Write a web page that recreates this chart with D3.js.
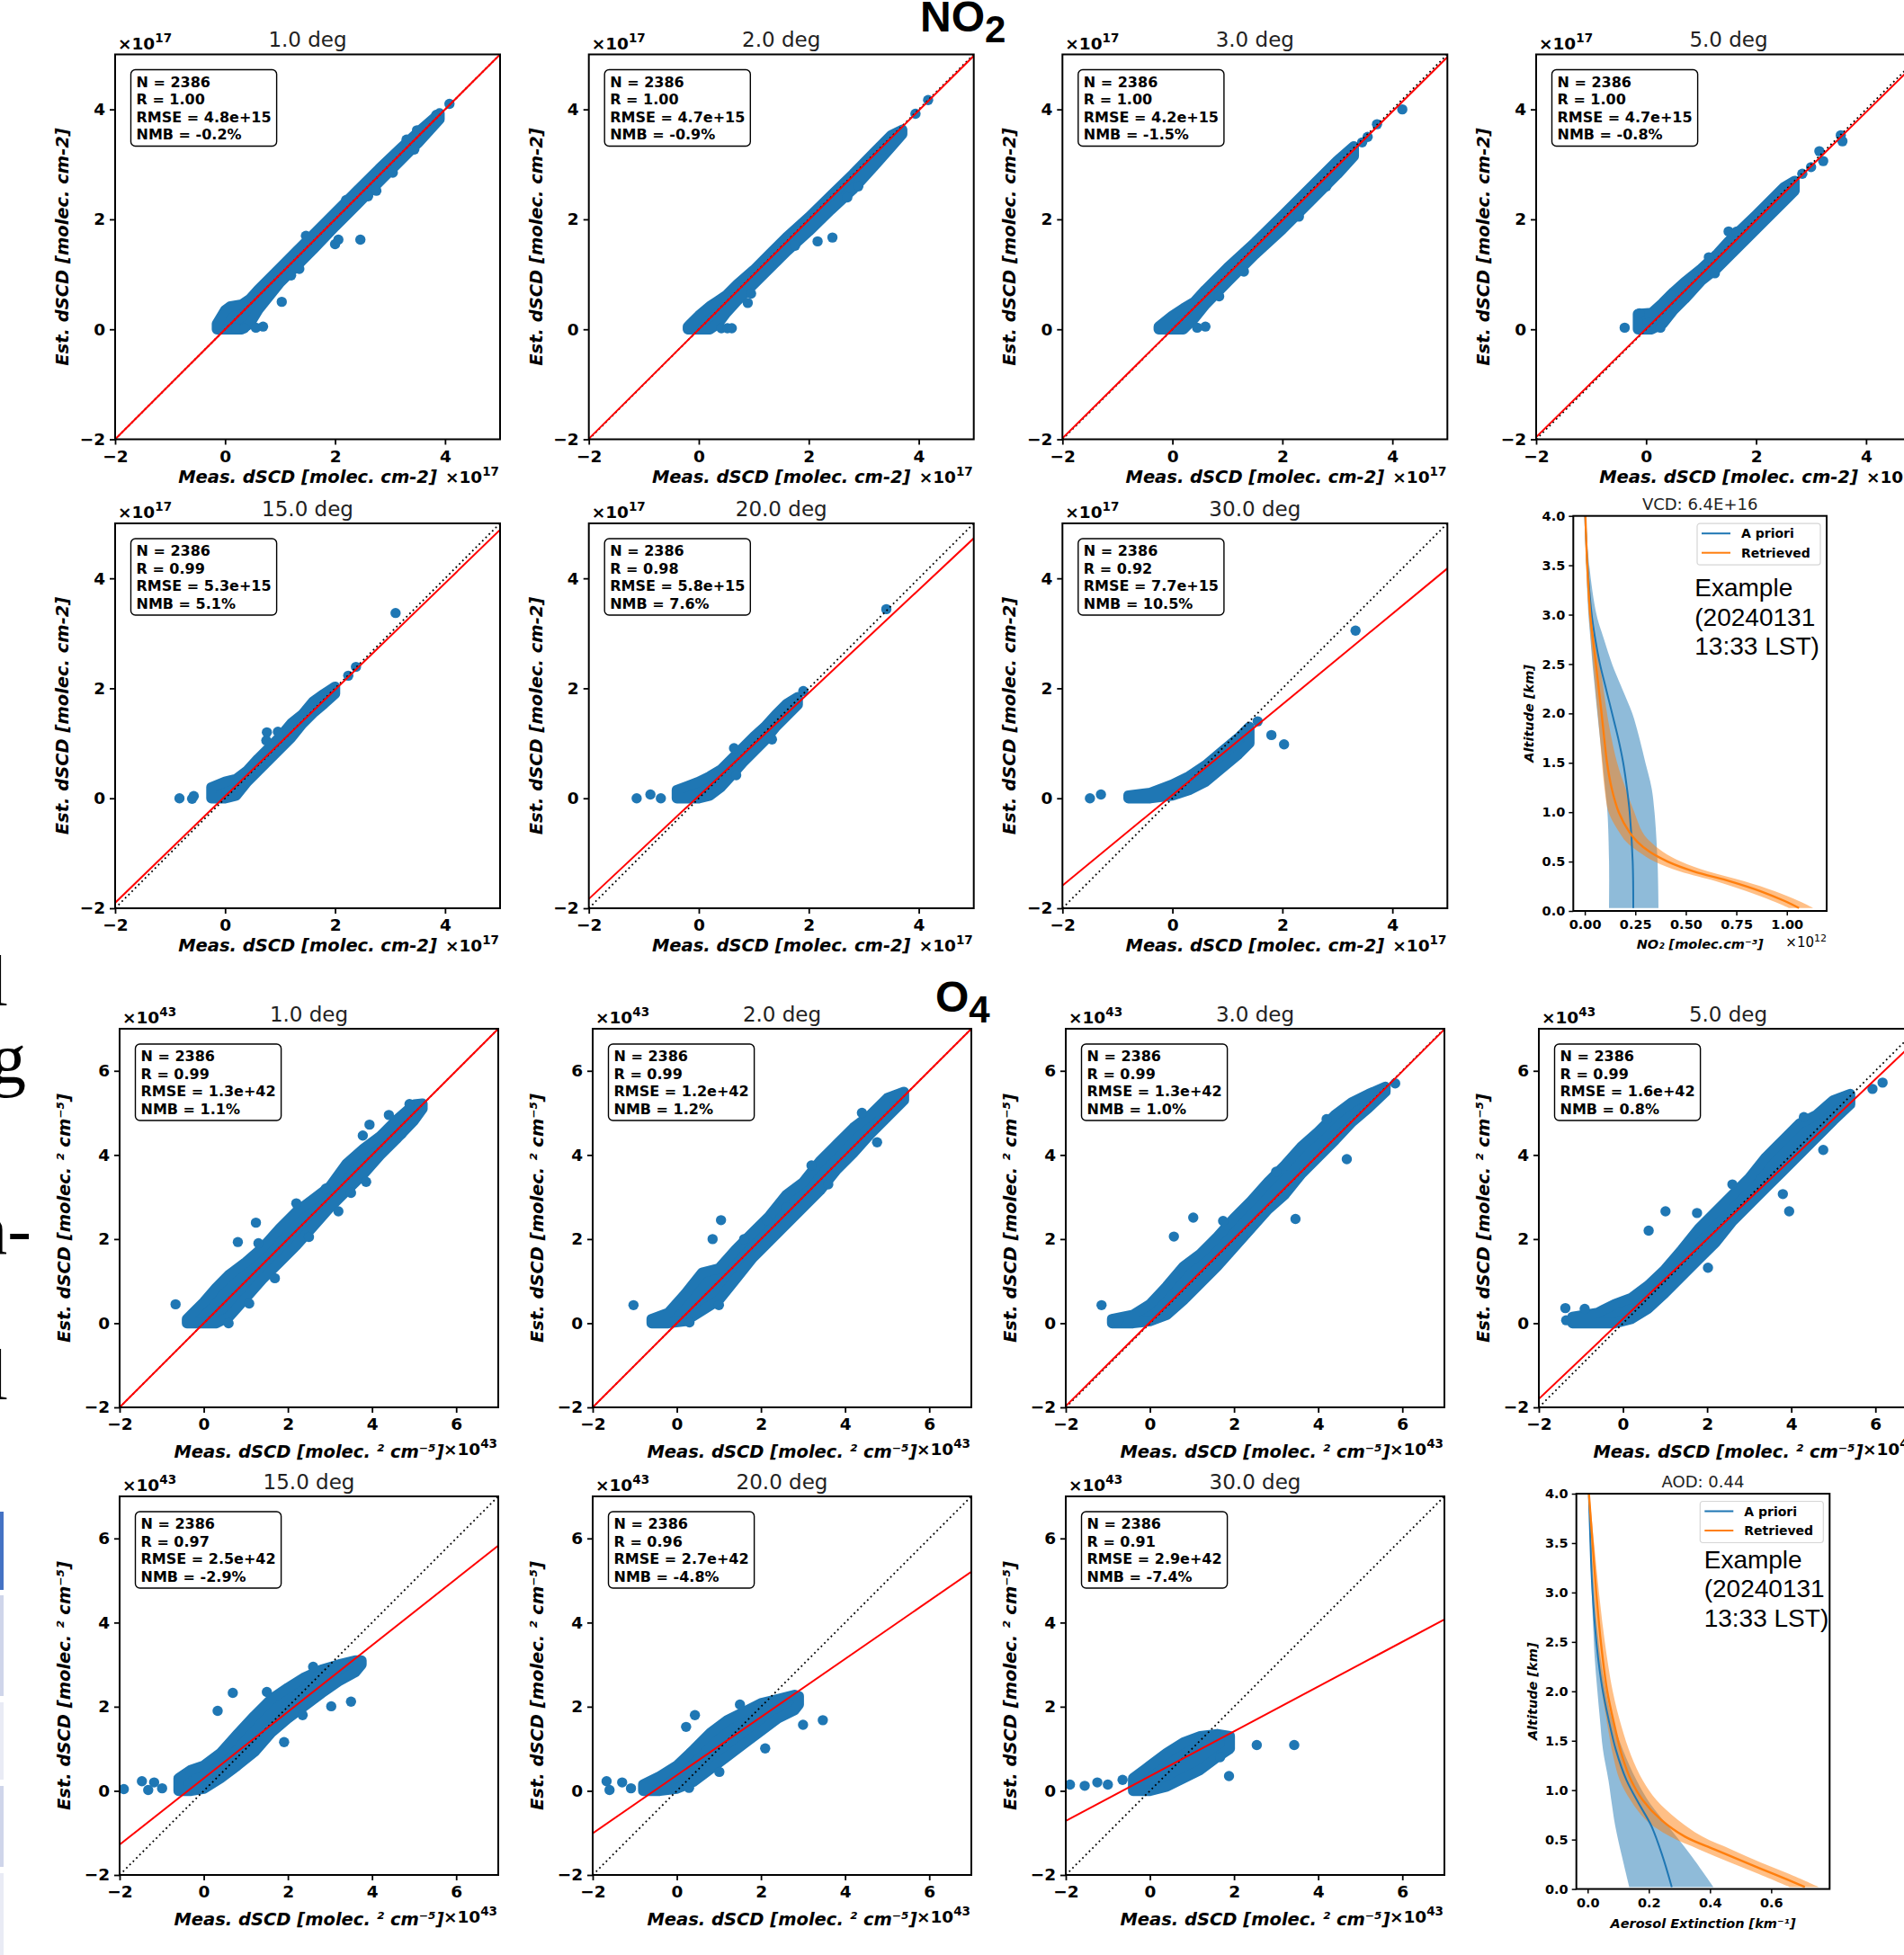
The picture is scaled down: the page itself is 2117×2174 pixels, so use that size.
<!DOCTYPE html>
<html>
<head>
<meta charset="utf-8">
<title>NO2 and O4 dSCD comparison by elevation angle</title>
<script src="https://cdn.jsdelivr.net/npm/d3@7/dist/d3.min.js"></script>
<style>
  html, body { margin: 0; padding: 0; background: #fff; }
  svg { display: block; }
</style>
</head>
<body>
<svg id="fig" width="2117" height="2174" xmlns="http://www.w3.org/2000/svg"></svg>
<script>
// ----------------------------------------------------------------------------
// Data
// ----------------------------------------------------------------------------
const elevationTitles = ["1.0 deg", "2.0 deg", "3.0 deg", "5.0 deg", "15.0 deg", "20.0 deg", "30.0 deg"];
const speciesLabels = [["NO", "2"], ["O", "4"]];

const no2Ticks = [-2, 0, 2, 4];
const o4Ticks = [-2, 0, 2, 4, 6];

// statistics printed in each panel
const no2Stats = [
  ["N = 2386", "R = 1.00", "RMSE = 4.8e+15", "NMB = -0.2%"],
  ["N = 2386", "R = 1.00", "RMSE = 4.7e+15", "NMB = -0.9%"],
  ["N = 2386", "R = 1.00", "RMSE = 4.2e+15", "NMB = -1.5%"],
  ["N = 2386", "R = 1.00", "RMSE = 4.7e+15", "NMB = -0.8%"],
  ["N = 2386", "R = 0.99", "RMSE = 5.3e+15", "NMB = 5.1%"],
  ["N = 2386", "R = 0.98", "RMSE = 5.8e+15", "NMB = 7.6%"],
  ["N = 2386", "R = 0.92", "RMSE = 7.7e+15", "NMB = 10.5%"]
];
const o4Stats = [
  ["N = 2386", "R = 0.99", "RMSE = 1.3e+42", "NMB = 1.1%"],
  ["N = 2386", "R = 0.99", "RMSE = 1.2e+42", "NMB = 1.2%"],
  ["N = 2386", "R = 0.99", "RMSE = 1.3e+42", "NMB = 1.0%"],
  ["N = 2386", "R = 0.99", "RMSE = 1.6e+42", "NMB = 0.8%"],
  ["N = 2386", "R = 0.97", "RMSE = 2.5e+42", "NMB = -2.9%"],
  ["N = 2386", "R = 0.96", "RMSE = 2.7e+42", "NMB = -4.8%"],
  ["N = 2386", "R = 0.91", "RMSE = 2.9e+42", "NMB = -7.4%"]
];

// linear fit [slope, intercept] (units of 1e17 / 1e43)
const no2Fit = [[1.0, 0.0], [0.995, 0.0], [0.99, 0.0], [0.985, 0.01], [0.969, 0.037], [0.937, 0.044], [0.824, 0.06]];
const o4Fit = [[1.0, 0.0], [1.0, 0.0], [0.995, 0.02], [0.95, 0.1], [0.79, 0.30], [0.691, 0.372], [0.532, 0.35]];

// dense core of each scatter cloud: [meas, est_low, est_high]
const no2Cloud = [
  [[-0.15,0.0,0.1],[0.0,0.0,0.35],[0.1,0.0,0.42],[0.3,0.0,0.45],[0.45,0.1,0.55],[0.6,0.35,0.72],[0.8,0.6,0.92],[1.0,0.85,1.12],[1.3,1.15,1.42],[1.6,1.45,1.72],[2.0,1.87,2.12],[2.4,2.27,2.52],[2.8,2.68,2.92],[3.2,3.08,3.3],[3.5,3.38,3.58],[3.9,3.82,3.93]],
  [[-0.2,0.0,0.05],[0.0,0.0,0.25],[0.2,0.0,0.42],[0.35,0.1,0.52],[0.5,0.3,0.62],[0.7,0.52,0.82],[1.0,0.82,1.08],[1.3,1.12,1.38],[1.6,1.42,1.68],[2.0,1.78,2.04],[2.4,2.17,2.43],[2.8,2.54,2.82],[3.2,2.98,3.23],[3.5,3.32,3.53],[3.7,3.55,3.63]],
  [[-0.25,0.0,0.05],[0.0,0.0,0.25],[0.2,0.0,0.38],[0.4,0.2,0.5],[0.6,0.45,0.72],[1.0,0.86,1.12],[1.5,1.36,1.58],[2.0,1.82,2.07],[2.5,2.32,2.57],[3.0,2.82,3.07],[3.3,3.15,3.33]],
  [[-0.15,0.0,0.28],[0.1,0.0,0.3],[0.3,0.1,0.48],[0.5,0.35,0.68],[0.7,0.55,0.86],[1.0,0.88,1.1],[1.3,1.12,1.38],[1.5,1.32,1.6],[2.0,1.82,2.08],[2.5,2.32,2.58],[2.7,2.52,2.7]],
  [[-0.25,0.0,0.2],[0.0,0.0,0.3],[0.2,0.05,0.35],[0.4,0.3,0.5],[0.6,0.5,0.72],[0.8,0.7,0.92],[1.0,0.9,1.12],[1.2,1.1,1.36],[1.4,1.35,1.52],[1.6,1.55,1.76],[1.8,1.72,1.9],[2.0,1.9,2.03]],
  [[-0.4,0.0,0.15],[0.0,0.0,0.3],[0.2,0.05,0.4],[0.4,0.2,0.52],[0.6,0.42,0.72],[0.8,0.65,0.92],[1.0,0.85,1.12],[1.2,1.05,1.3],[1.4,1.3,1.52],[1.6,1.5,1.72],[1.8,1.7,1.84]],
  [[-0.8,0.0,0.05],[-0.4,0.0,0.1],[0.0,0.05,0.25],[0.3,0.15,0.4],[0.6,0.3,0.6],[0.9,0.55,0.85],[1.2,0.8,1.1],[1.4,1.0,1.3]]
];
// individual points outside the dense core: [meas, est]
const no2Points = [
  [[0.2,0.02],[0.35,0.02],[0.56,0.03],[0.69,0.05],[1.03,0.5],[1.2,0.98],[1.35,1.1],[1.47,1.7],[1.72,1.6],[2.0,1.55],[2.06,1.63],[2.2,2.35],[2.46,1.63],[2.6,2.42],[2.75,2.52],[3.05,2.85],[3.3,3.45],[3.44,3.27],[3.49,3.62],[3.84,3.9],[4.08,4.1]],
  [[0.41,0.02],[0.52,0.02],[0.6,0.02],[0.89,0.48],[0.95,0.65],[1.42,1.25],[1.75,1.52],[2.16,1.6],[2.43,1.67],[2.7,2.4],[2.9,2.6],[3.34,3.27],[3.68,3.57],[3.94,3.92],[4.17,4.17]],
  [[0.45,0.03],[0.6,0.05],[0.85,0.6],[1.3,1.05],[2.3,2.05],[2.8,2.6],[3.45,3.4],[3.55,3.5],[3.72,3.73],[4.18,4.0]],
  [[-0.39,0.03],[-0.12,0.29],[0.26,0.03],[0.45,0.62],[1.14,1.31],[1.25,1.02],[1.5,1.78],[1.65,1.78],[2.84,2.83],[3.0,2.95],[3.15,3.24],[3.22,3.06],[3.54,3.53],[3.57,3.42]],
  [[-0.83,0.0],[-0.57,0.04],[-0.6,-0.01],[0.75,1.05],[0.76,1.2],[0.96,1.21],[1.85,1.9],[2.24,2.23],[2.38,2.39],[3.1,3.37]],
  [[-1.13,0.0],[-0.88,0.07],[-0.69,0.0],[0.64,0.91],[0.68,0.42],[1.33,1.07],[1.9,1.95],[3.41,3.44]],
  [[-1.5,0.0],[-1.3,0.07],[1.55,1.4],[1.8,1.15],[2.03,0.98],[3.33,3.05]]
];

const o4Cloud = [
  [[-0.4,0.0,0.1],[-0.3,0.0,0.2],[0.0,0.0,0.5],[0.3,0.0,0.85],[0.6,0.15,1.15],[1.0,0.6,1.45],[1.4,1.05,1.8],[1.8,1.45,2.25],[2.2,1.85,2.65],[2.6,2.3,2.95],[3.0,2.75,3.25],[3.4,3.15,3.8],[3.8,3.55,4.15],[4.2,4.0,4.45],[4.6,4.4,4.85],[5.0,4.82,5.2],[5.2,5.1,5.22]],
  [[-0.6,0.0,0.1],[-0.2,0.0,0.25],[0.2,0.05,0.7],[0.6,0.3,1.2],[1.0,0.55,1.3],[1.4,1.05,1.75],[1.8,1.55,2.15],[2.2,1.95,2.55],[2.6,2.35,3.05],[3.0,2.75,3.35],[3.4,3.15,3.85],[3.8,3.65,4.25],[4.2,4.05,4.65],[4.6,4.5,4.95],[5.0,4.9,5.35],[5.4,5.3,5.5]],
  [[-0.9,0.0,0.1],[-0.4,0.0,0.2],[0.0,0.05,0.45],[0.4,0.2,0.88],[0.8,0.55,1.35],[1.2,0.95,1.65],[1.6,1.35,2.05],[2.0,1.8,2.5],[2.4,2.25,2.9],[2.8,2.7,3.35],[3.2,3.05,3.75],[3.6,3.55,4.2],[4.0,3.95,4.55],[4.4,4.35,4.95],[4.8,4.78,5.25],[5.2,5.12,5.45],[5.6,5.5,5.62]],
  [[-1.2,0.0,0.15],[-0.6,0.0,0.25],[-0.2,0.0,0.45],[0.2,0.1,0.6],[0.6,0.35,0.9],[1.0,0.72,1.28],[1.4,1.12,1.75],[1.8,1.52,2.25],[2.2,1.92,2.65],[2.6,2.42,3.05],[3.0,2.82,3.45],[3.4,3.22,3.95],[3.8,3.62,4.35],[4.2,4.02,4.75],[4.6,4.42,4.95],[5.0,4.82,5.3],[5.4,5.2,5.45]],
  [[-0.6,0.0,0.3],[-0.3,0.0,0.5],[0.0,0.05,0.6],[0.4,0.3,0.9],[0.8,0.6,1.35],[1.2,0.92,1.78],[1.6,1.38,2.18],[2.0,1.72,2.45],[2.4,2.02,2.7],[2.8,2.32,2.88],[3.2,2.6,3.0],[3.6,2.82,3.1],[3.75,3.0,3.1]],
  [[-0.8,0.0,0.15],[-0.4,0.0,0.35],[0.0,0.05,0.6],[0.4,0.22,0.98],[0.8,0.52,1.38],[1.2,0.82,1.68],[1.6,1.12,1.88],[2.0,1.42,2.08],[2.4,1.72,2.18],[2.8,1.92,2.28],[2.9,2.05,2.25]],
  [[-0.4,0.0,0.3],[0.0,0.0,0.6],[0.4,0.1,0.9],[0.8,0.3,1.15],[1.2,0.5,1.3],[1.6,0.8,1.35],[1.9,1.0,1.3]]
];
const o4Points = [
  [[-0.67,0.45],[0.59,0.0],[0.81,1.93],[1.24,2.39],[1.08,0.47],[1.3,1.9],[1.69,1.07],[2.2,2.85],[2.5,2.05],[2.9,3.2],[3.2,2.66],[3.5,3.1],[3.86,3.36],[3.78,4.46],[3.94,4.72],[4.4,4.95],[4.7,4.5],[4.89,5.21]],
  [[-1.03,0.43],[0.3,0.02],[1.0,0.43],[0.85,2.0],[1.05,2.45],[1.6,2.0],[2.14,2.45],[2.6,2.75],[3.2,3.75],[3.6,3.3],[4.4,5.0],[4.76,4.3]],
  [[-1.15,0.43],[-0.75,0.06],[0.57,2.06],[1.03,2.51],[1.74,2.43],[2.2,2.1],[3.0,3.6],[3.46,2.48],[4.2,4.85],[4.68,3.9],[5.83,5.7]],
  [[-1.37,0.36],[-1.35,0.07],[-0.91,0.34],[0.61,2.2],[1.01,2.66],[1.76,2.62],[2.02,1.32],[2.6,3.3],[3.8,3.07],[3.95,2.66],[4.3,4.9],[4.76,4.12],[5.93,5.57],[6.17,5.72]],
  [[-1.9,0.04],[-1.47,0.23],[-1.32,0.02],[-1.18,0.2],[-0.99,0.06],[0.33,1.9],[0.69,2.33],[1.5,2.35],[1.91,1.16],[2.35,1.8],[2.6,2.95],[3.03,2.01],[3.5,2.12]],
  [[-1.67,0.23],[-1.6,0.02],[-1.3,0.2],[-1.09,0.06],[0.22,1.52],[0.43,1.8],[0.29,0.07],[1.01,0.45],[1.5,2.05],[2.1,1.01],[3.0,1.57],[3.47,1.68]],
  [[-1.9,0.15],[-1.55,0.12],[-1.25,0.2],[-1.0,0.15],[-0.65,0.26],[1.19,1.24],[1.67,0.8],[1.88,0.35],[2.54,1.09],[3.43,1.09]]
];

// example vertical profiles (altitude in km)
const no2AprioriAlt  = [0.03, 0.5, 1.0, 1.25, 1.5, 1.75, 2.0, 2.25, 2.5, 2.75, 3.0, 3.5, 4.0];
const no2AprioriMean = [0.24, 0.237, 0.222, 0.208, 0.19, 0.165, 0.135, 0.105, 0.075, 0.052, 0.034, 0.013, 0.002];
const no2AprioriLo   = [0.12, 0.12, 0.112, 0.10, 0.088, 0.075, 0.062, 0.05, 0.038, 0.028, 0.018, 0.007, 0.001];
const no2AprioriHi   = [0.365, 0.36, 0.345, 0.33, 0.30, 0.27, 0.235, 0.185, 0.135, 0.095, 0.058, 0.022, 0.004];

const no2RetrAlt  = [0.03, 0.1, 0.2, 0.3, 0.4, 0.5, 0.6, 0.7, 0.8, 1.0, 1.25, 1.5, 1.75, 2.0, 2.5, 3.0, 3.5, 4.0];
const no2RetrMean = [1.06, 0.99, 0.87, 0.72, 0.54, 0.41, 0.32, 0.26, 0.22, 0.168, 0.132, 0.11, 0.096, 0.083, 0.055, 0.027, 0.012, 0.003];
const no2RetrLo   = [1.01, 0.93, 0.80, 0.65, 0.47, 0.345, 0.265, 0.205, 0.17, 0.118, 0.097, 0.085, 0.075, 0.064, 0.041, 0.02, 0.008, 0.001];
const no2RetrHi   = [1.13, 1.06, 0.94, 0.79, 0.61, 0.475, 0.385, 0.325, 0.285, 0.245, 0.2, 0.16, 0.132, 0.11, 0.075, 0.037, 0.018, 0.005];

const aerAprioriAlt  = [0.02, 0.33, 0.64, 0.86, 1.1, 1.41, 1.72, 2.03, 2.34, 2.65, 3.11, 3.5, 4.0];
const aerAprioriMean = [0.275, 0.245, 0.208, 0.168, 0.127, 0.092, 0.068, 0.048, 0.034, 0.024, 0.014, 0.009, 0.004];
const aerAprioriLo   = [0.136, 0.112, 0.09, 0.079, 0.068, 0.05, 0.04, 0.031, 0.023, 0.018, 0.012, 0.008, 0.003];
const aerAprioriHi   = [0.411, 0.34, 0.262, 0.205, 0.16, 0.115, 0.08, 0.058, 0.042, 0.031, 0.019, 0.012, 0.006];

const aerRetrAlt  = [0.02, 0.15, 0.27, 0.4, 0.53, 0.7, 0.9, 1.1, 1.35, 1.65, 2.0, 2.5, 3.0, 3.5, 4.0];
const aerRetrMean = [0.71, 0.61, 0.515, 0.415, 0.318, 0.24, 0.18, 0.142, 0.112, 0.088, 0.064, 0.043, 0.028, 0.016, 0.004];
const aerRetrLo   = [0.66, 0.56, 0.465, 0.365, 0.27, 0.19, 0.14, 0.105, 0.083, 0.065, 0.047, 0.031, 0.019, 0.01, 0.002];
const aerRetrHi   = [0.755, 0.66, 0.565, 0.47, 0.375, 0.295, 0.225, 0.18, 0.142, 0.11, 0.082, 0.056, 0.037, 0.021, 0.006];

const no2ProfileTicks = [0, 0.25, 0.5, 0.75, 1.0];
const aerProfileTicks = [0, 0.2, 0.4, 0.6];
const altitudeTicks = [0, 0.5, 1.0, 1.5, 2.0, 2.5, 3.0, 3.5, 4.0];
const legendLabels = ["A priori", "Retrieved"];
const exampleLines = ["Example", "(20240131", "13:33 LST)"];

// text fragments and table edge from the surrounding slide
const slideFragments = ["l", "g", "n-", "l"];
const tableEdgeColors = ["#4472c4", "#cfd5ea", "#e9ebf5", "#cfd5ea", "#e9ebf5"];

// ----------------------------------------------------------------------------
// Drawing
// ----------------------------------------------------------------------------
const svg = d3.select("#fig");
const BLUE = "#1f77b4", ORANGE = "#ff7f0e";
const SANS = "'DejaVu Sans', sans-serif";
const ARIAL = "'Liberation Sans', Arial, sans-serif";
const SERIF = "'Liberation Serif', 'Times New Roman', serif";
const R = 5.7;
let clipCount = 0;

svg.append("rect").attr("width", 2117).attr("height", 2174).attr("fill", "#fff");

const minusFmt = d => (d < 0 ? "\u2212" + Math.abs(d) : String(d));

function styleAxis(sel, size, width) {
  sel.select(".domain").remove();
  sel.selectAll(".tick line").attr("stroke", "#000").attr("stroke-width", width);
  sel.selectAll(".tick text")
    .attr("fill", "#000")
    .attr("font-family", SANS)
    .attr("font-weight", "bold")
    .attr("font-size", size);
}

function expText(parent, x, y, anchor, size, expSize, expo, bold) {
  const t = parent.append("text")
    .attr("x", x).attr("y", y)
    .attr("text-anchor", anchor)
    .attr("font-family", SANS)
    .attr("font-weight", bold ? "bold" : "normal")
    .attr("font-size", size)
    .attr("fill", "#000");
  t.append("tspan").text("\u00d710");
  t.append("tspan").attr("dy", -size * 0.42).attr("font-size", expSize).text(expo);
  return t;
}

function scatterPanel(o) {
  const g = svg.append("g").attr("transform", `translate(${o.left},${o.top})`);
  const x = d3.scaleLinear().domain(o.domain).range([0, o.w]);
  const y = d3.scaleLinear().domain(o.domain).range([o.h, 0]);
  const id = "clip" + (clipCount++);
  g.append("clipPath").attr("id", id).append("rect").attr("width", o.w).attr("height", o.h);
  const plot = g.append("g").attr("clip-path", `url(#${id})`);

  // dense part of the point cloud (envelope of overlapping markers)
  plot.append("path").datum(o.cloud)
    .attr("d", d3.area().x(d => x(d[0])).y0(d => y(d[1])).y1(d => y(d[2])))
    .attr("fill", BLUE).attr("stroke", BLUE)
    .attr("stroke-width", 2 * R).attr("stroke-linejoin", "round");
  // individual markers
  plot.selectAll("circle.pt").data(o.points).join("circle")
    .attr("class", "pt")
    .attr("cx", d => x(d[0])).attr("cy", d => y(d[1]))
    .attr("r", R).attr("fill", BLUE);

  const [d0, d1] = o.domain;
  // 1:1 reference
  plot.append("line")
    .attr("x1", x(d0)).attr("y1", y(d0)).attr("x2", x(d1)).attr("y2", y(d1))
    .attr("stroke", "#000").attr("stroke-width", 1.8).attr("stroke-dasharray", "1.8,3.4");
  // regression line
  const [m, b] = o.fit;
  plot.append("line")
    .attr("x1", x(d0)).attr("y1", y(m * d0 + b)).attr("x2", x(d1)).attr("y2", y(m * d1 + b))
    .attr("stroke", "#ff0000").attr("stroke-width", 2);

  // axes
  const xa = g.append("g").attr("transform", `translate(0,${o.h})`)
    .call(d3.axisBottom(x).tickValues(o.ticks).tickSize(6).tickPadding(6).tickFormat(minusFmt));
  styleAxis(xa, 18.5, 1.8);
  const ya = g.append("g")
    .call(d3.axisLeft(y).tickValues(o.ticks).tickSize(6).tickPadding(5).tickFormat(minusFmt));
  styleAxis(ya, 18.5, 1.8);

  g.append("rect").attr("width", o.w).attr("height", o.h)
    .attr("fill", "none").attr("stroke", "#000").attr("stroke-width", 2);

  // statistics box
  const sb = g.append("g").attr("transform", "translate(17.5,17)");
  const rect = sb.append("rect");
  const st = sb.append("text")
    .attr("font-family", SANS).attr("font-weight", "bold").attr("font-size", 16).attr("fill", "#000");
  o.stats.forEach((s, i) => st.append("tspan").attr("x", 6).attr("y", 19 + i * 19.5).text(s));
  const tw = st.node().getBBox().width;
  rect.attr("width", tw + 12).attr("height", 85).attr("rx", 5)
    .attr("fill", "#fff").attr("fill-opacity", 0.8)
    .attr("stroke", "#000").attr("stroke-width", 1.4);

  // title and offset texts
  g.append("text").attr("x", o.w / 2).attr("y", -8.5).attr("text-anchor", "middle")
    .attr("font-family", SANS).attr("font-size", 23).attr("fill", "#222").text(o.title);
  expText(g, 3, -6, "start", 18.5, 13.5, o.expo, true);
  expText(g, o.w - 1, o.h + o.xoffY, "end", 18.5, 13.5, o.expo, true);

  // axis labels
  g.append("text").attr("x", o.w / 2).attr("y", o.h + o.xlabY).attr("text-anchor", "middle")
    .attr("font-family", SANS).attr("font-weight", "bold").attr("font-style", "italic")
    .attr("font-size", 19.5).attr("fill", "#000").text(o.xlab);
  g.append("text").attr("transform", `translate(${-o.ylabX},${o.h / 2}) rotate(-90)`)
    .attr("text-anchor", "middle")
    .attr("font-family", SANS).attr("font-weight", "bold").attr("font-style", "italic")
    .attr("font-size", 19.5).attr("fill", "#000").text(o.ylab);
}

function zipProfile(alt, mean, lo, hi) {
  return alt.map((a, i) => ({ alt: a, mean: mean[i], lo: lo[i], hi: hi[i] }));
}

function profilePanel(o) {
  const g = svg.append("g").attr("transform", `translate(${o.left},${o.top})`);
  const x = d3.scaleLinear().domain(o.xDomain).range([0, o.w]);
  const y = d3.scaleLinear().domain([0, 4]).range([o.h, 0]);
  const id = "clip" + (clipCount++);
  g.append("clipPath").attr("id", id).append("rect").attr("width", o.w).attr("height", o.h);
  const plot = g.append("g").attr("clip-path", `url(#${id})`);

  const band = d3.area().curve(d3.curveCatmullRom.alpha(0.5))
    .y(d => y(d.alt)).x0(d => x(d.lo)).x1(d => x(d.hi));
  const line = d3.line().curve(d3.curveCatmullRom.alpha(0.5))
    .x(d => x(d.mean)).y(d => y(d.alt));

  plot.append("path").datum(o.apriori).attr("d", band).attr("fill", BLUE).attr("fill-opacity", 0.5);
  plot.append("path").datum(o.retrieved).attr("d", band).attr("fill", ORANGE).attr("fill-opacity", 0.5);
  plot.append("path").datum(o.apriori).attr("d", line).attr("fill", "none").attr("stroke", BLUE).attr("stroke-width", 2);
  plot.append("path").datum(o.retrieved).attr("d", line).attr("fill", "none").attr("stroke", ORANGE).attr("stroke-width", 2.4);

  const xa = g.append("g").attr("transform", `translate(0,${o.h})`)
    .call(d3.axisBottom(x).tickValues(o.xTicks).tickSize(5).tickPadding(5).tickFormat(o.xFmt));
  styleAxis(xa, 14.5, 1.5);
  const ya = g.append("g")
    .call(d3.axisLeft(y).tickValues(altitudeTicks).tickSize(5).tickPadding(4).tickFormat(d3.format(".1f")));
  styleAxis(ya, 14.5, 1.5);
  g.append("rect").attr("width", o.w).attr("height", o.h)
    .attr("fill", "none").attr("stroke", "#000").attr("stroke-width", 2);

  // legend
  const lg = g.append("g").attr("transform", `translate(${o.w - 144},8.5)`);
  lg.append("rect").attr("width", 137).attr("height", 46).attr("rx", 3)
    .attr("fill", "#fff").attr("fill-opacity", 0.8).attr("stroke", "#d6d6d6").attr("stroke-width", 1.2);
  [BLUE, ORANGE].forEach((c, i) => {
    lg.append("line").attr("x1", 5).attr("x2", 37).attr("y1", 11 + i * 21.5).attr("y2", 11 + i * 21.5)
      .attr("stroke", c).attr("stroke-width", 2);
    lg.append("text").attr("x", 49).attr("y", 16 + i * 21.5)
      .attr("font-family", SANS).attr("font-weight", "bold").attr("font-size", 14).attr("fill", "#000")
      .text(legendLabels[i]);
  });

  // annotation
  const ex = g.append("text").attr("font-family", ARIAL).attr("font-size", 28).attr("fill", "#000");
  exampleLines.forEach((s, i) => ex.append("tspan").attr("x", o.exX).attr("y", o.exY + i * 32.5).text(s));

  g.append("text").attr("x", o.w / 2).attr("y", -7).attr("text-anchor", "middle")
    .attr("font-family", SANS).attr("font-size", 18).attr("fill", "#222").text(o.title);
  g.append("text").attr("x", o.w / 2).attr("y", o.h + o.xlabY).attr("text-anchor", "middle")
    .attr("font-family", SANS).attr("font-weight", "bold").attr("font-style", "italic")
    .attr("font-size", 14.5).attr("fill", "#000").text(o.xlab);
  g.append("text").attr("transform", `translate(-44,${o.h / 2}) rotate(-90)`)
    .attr("text-anchor", "middle")
    .attr("font-family", SANS).attr("font-weight", "bold").attr("font-style", "italic")
    .attr("font-size", 14.5).attr("fill", "#000").text("Altitude [km]");
  if (o.expo) expText(g, o.w, o.h + 40, "end", 15, 11, o.expo, false);
}

// panel grid
const no2Lefts = [128, 654.7, 1181.3, 1708];
const no2Tops = [60.5, 582];
const o4Lefts = [133, 659, 1185, 1711];
const o4Tops = [1144, 1664];

elevationTitles.forEach((t, i) => {
  const row = Math.floor(i / 4), col = i % 4;
  scatterPanel({
    left: no2Lefts[col], top: no2Tops[row], w: 428, h: 428,
    domain: [-2, 5], ticks: no2Ticks, title: t, expo: "17",
    stats: no2Stats[i], fit: no2Fit[i], cloud: no2Cloud[i], points: no2Points[i],
    xlab: "Meas. dSCD [molec. cm-2]", ylab: "Est. dSCD [molec. cm-2]",
    xlabY: 48, xoffY: 48, ylabX: 52
  });
  scatterPanel({
    left: o4Lefts[col], top: o4Tops[row], w: 421, h: 421,
    domain: [-2, 7], ticks: o4Ticks, title: t, expo: "43",
    stats: o4Stats[i], fit: o4Fit[i], cloud: o4Cloud[i], points: o4Points[i],
    xlab: "Meas. dSCD [molec. \u00b2 cm\u207b\u2075]", ylab: "Est. dSCD [molec. \u00b2 cm\u207b\u2075]",
    xlabY: 56, xoffY: 53, ylabX: 55
  });
});

profilePanel({
  left: 1749.3, top: 573.7, w: 281.7, h: 439.3,
  xDomain: [-0.057, 1.197], xTicks: no2ProfileTicks, xFmt: d3.format(".2f"),
  apriori: zipProfile(no2AprioriAlt, no2AprioriMean, no2AprioriLo, no2AprioriHi),
  retrieved: zipProfile(no2RetrAlt, no2RetrMean, no2RetrLo, no2RetrHi),
  title: "VCD: 6.4E+16", xlab: "NO\u2082 [molec.cm\u207b\u00b3]", xlabY: 42, expo: "12",
  exX: 135, exY: 89.5
});
profilePanel({
  left: 1752.7, top: 1661, w: 281.6, h: 439.6,
  xDomain: [-0.037, 0.791], xTicks: aerProfileTicks, xFmt: d3.format(".1f"),
  apriori: zipProfile(aerAprioriAlt, aerAprioriMean, aerAprioriLo, aerAprioriHi),
  retrieved: zipProfile(aerRetrAlt, aerRetrMean, aerRetrLo, aerRetrHi),
  title: "AOD: 0.44", xlab: "Aerosol Extinction [km\u207b\u00b9]", xlabY: 43, expo: null,
  exX: 142, exY: 82.5
});

// species headings
const headPos = [[1023, 35], [1040, 1125]];
speciesLabels.forEach((s, i) => {
  const t = svg.append("text").attr("x", headPos[i][0]).attr("y", headPos[i][1])
    .attr("font-family", ARIAL).attr("font-weight", "bold").attr("font-size", 48).attr("fill", "#000");
  t.append("tspan").text(s[0]);
  t.append("tspan").attr("dy", 12).attr("font-size", 42).text(s[1]);
});

// left margin: cut-off slide text and table edge
const fragPos = [[9, 1118], [29, 1204], [35, 1394], [9, 1556]];
slideFragments.forEach((s, i) => {
  svg.append("text").attr("x", fragPos[i][0]).attr("y", fragPos[i][1]).attr("text-anchor", "end")
    .attr("font-family", SERIF).attr("font-size", 80).attr("fill", "#000").text(s);
});
const edgeY = [1681, 1774, 1893, 1986, 2083];
const edgeH = [87, 112, 86, 90, 91];
tableEdgeColors.forEach((c, i) => {
  svg.append("rect").attr("x", 0).attr("y", edgeY[i]).attr("width", 4).attr("height", edgeH[i]).attr("fill", c);
});
</script>
</body>
</html>
